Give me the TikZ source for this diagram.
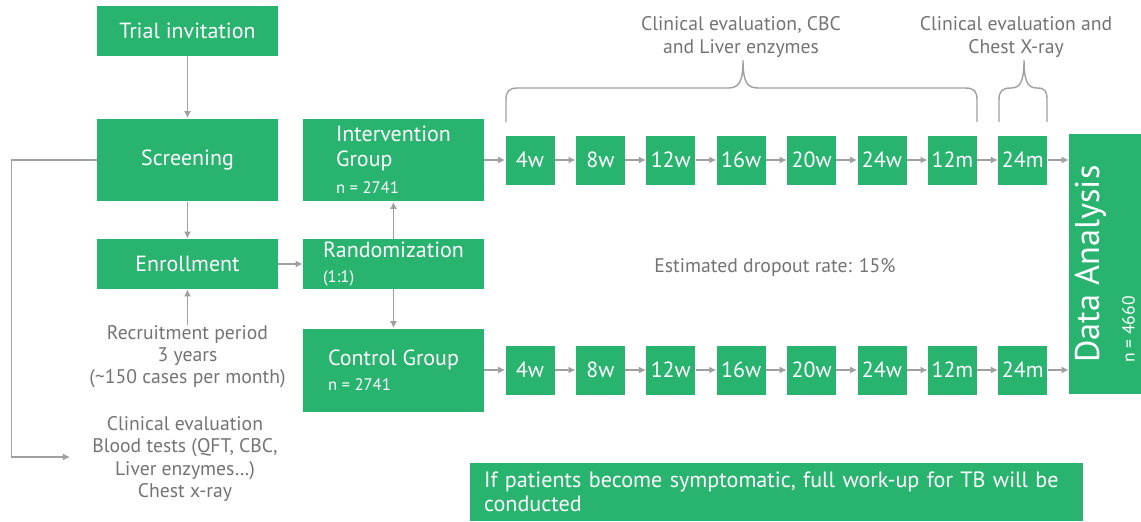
\documentclass[tikz,border=0pt]{standalone}
\usepackage{fontspec}
\setmainfont{PT Sans}
\usepackage{xcolor}
\usetikzlibrary{arrows.meta, positioning}
\definecolor{trialgreen}{RGB}{40,180,110}
\definecolor{linegray}{RGB}{160,160,160}
\definecolor{notegray}{RGB}{115,115,115}
\newcommand{\nsmall}[1]{{\fontsize{9.5}{11}\selectfont #1}}

\begin{document}
\begin{tikzpicture}[x = 0.02cm, y = -0.02cm,
  box/.style = {fill = trialgreen, text = white, inner sep = 0pt, align = left, minimum width = 3.62cm, font = \fontsize{12.5}{14.2}\selectfont},
  wide/.style = {box, minimum height = 1cm},
  tall/.style = {box, minimum height = 1.66cm},
  visit/.style = {box, minimum width = 0.98cm, minimum height = 0.98cm},
  note/.style = {text = notegray, align = center, inner sep = 0pt, font = \fontsize{11.2}{12.6}\selectfont},
  arr/.style = {draw = linegray, line width = 0.8pt, -{Latex[length = 4pt, width = 4pt]}},
  brace/.style = {draw = linegray, line width = 0.8pt}]
\useasboundingbox (0,0) rectangle (1141,521);

% left column
\node[wide] (invite) at (187.5,31) {Trial invitation};
\node[tall] (screen) at (187.5,160) {Screening};
\node[wide] (enrol) at (187.5,264) {Enrollment};
\node[note] (recruit) at (187.5,357) {Recruitment period\\3 years\\(\textasciitilde150 cases per month)};
\node[note] (tests) at (185,459) {Clinical evaluation\\Blood tests (QFT, CBC,\\Liver enzymes…)\\Chest x-ray};
\coordinate (testsin) at (70,457);

% groups
\node[tall] (interv) at (393.5,160) {Intervention\\Group\\[1pt]\nsmall{n = 2741}};
\node[wide] (random) at (393.5,264) {Randomization\\\nsmall{(1:1)}};
\node[tall] (control) at (393.5,370) {Control Group\\\nsmall{n = 2741}};

% follow-up visits
\foreach \v [count = \i] in {4w,8w,12w,16w,20w,24w,12m,24m} {
  \node[visit] (top\i) at ({530 + 70.4*(\i-1)}, 160) {\v};
  \node[visit] (bot\i) at ({530 + 70.4*(\i-1)}, 370) {\v};
}
\node[box, rotate = 90, minimum width = 5.2cm, minimum height = 1.44cm, font = \fontsize{19.5}{20}\selectfont] (analysis) at (1105,264) {Data Analysis\\\fontsize{10}{11}\selectfont n = 4660};

\node[box, minimum width = 12.26cm, minimum height = 1.16cm, text width = 11.7cm, inner xsep = 0.28cm, font = \fontsize{12.6}{13.7}\selectfont] (workup) at (776.5,492) {If patients become symptomatic, full work-up for TB will be\\conducted};

\node[note] (labcheck) at (741,37) {Clinical evaluation, CBC\\and Liver enzymes};
\node[note] (xraycheck) at (1016,37) {Clinical evaluation and\\Chest X-ray};
\node[note] (dropout) at (775,267) {Estimated dropout rate: 15\%};

% arrows
\draw[arr] (invite) -- (screen);
\draw[arr] (screen) -- (enrol);
\draw[arr] (recruit.north) -- (enrol);
\draw[arr] (enrol) -- (random);
\draw[arr] (random) -- (interv);
\draw[arr] (random) -- (control);
\draw[arr] (screen.west) -- ++(-85,0) |- (testsin);
\draw[arr] (interv) -- (top1);
\draw[arr] (control) -- (bot1);
\foreach \i in {2,...,8} {
  \pgfmathtruncatemacro\j{\i-1}
  \draw[arr] (top\j) -- (top\i);
  \draw[arr] (bot\j) -- (bot\i);
}
\draw[arr] (top8) -- (top8 -| analysis.north);
\draw[arr] (bot8) -- (bot8 -| analysis.north);

% braces
\draw[brace] (506,122) -- (506,100) .. controls (506,91) and (509,88) .. (518,88) -- (728,88) .. controls (739,88) and (743,82) .. (743,60) .. controls (743,82) and (747,88) .. (758,88) -- (965,88) .. controls (974,88) and (977,91) .. (977,100) -- (977,122);
\draw[brace] (999,122) -- (999,100) .. controls (999,91) and (1002,88) .. (1011,88) .. controls (1020,88) and (1024,82) .. (1024,60) .. controls (1024,82) and (1028,88) .. (1037,88) .. controls (1045,88) and (1047,91) .. (1047,100) -- (1047,122);
\end{tikzpicture}
\end{document}
